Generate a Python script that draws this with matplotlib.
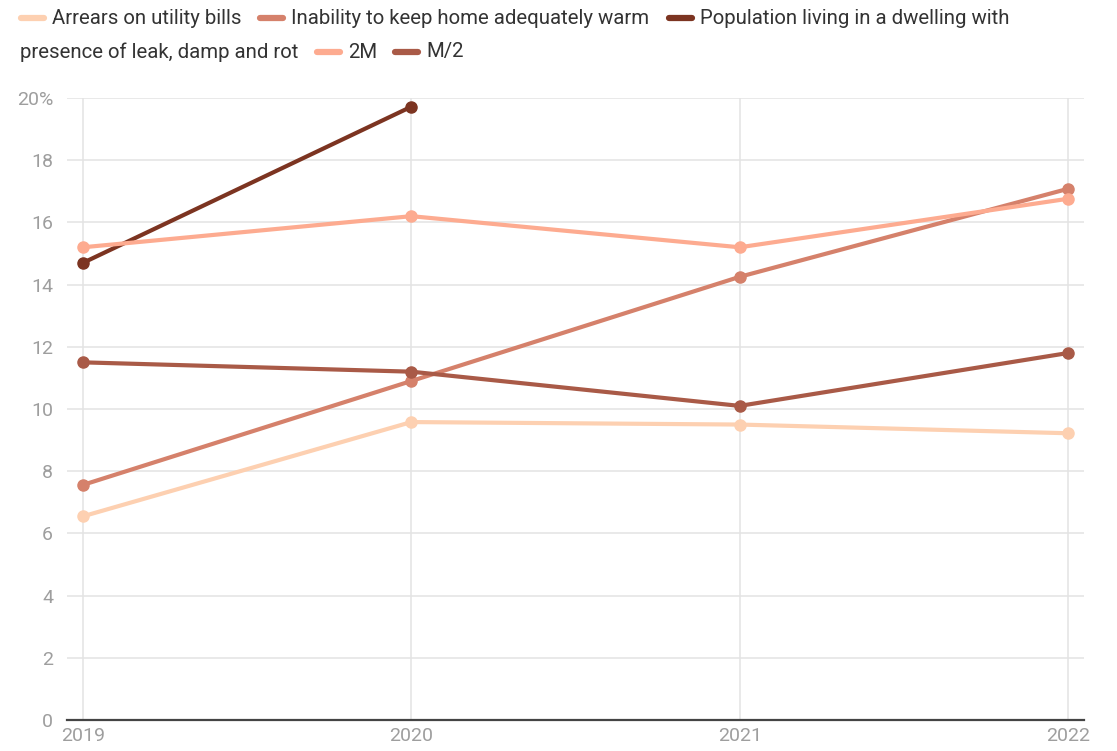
import matplotlib
matplotlib.use("Agg")
import matplotlib.pyplot as plt
from matplotlib.lines import Line2D

plt.rcParams['font.family'] = ['Roboto', 'DejaVu Sans']

# --- data -------------------------------------------------------------------
years = [2019, 2020, 2021, 2022]
arrears = [6.55, 9.58, 9.5, 9.22]
inability = [7.56, 10.9, 14.25, 17.08]
population = [14.7, 19.72]          # only 2019-2020
two_m = [15.2, 16.2, 15.2, 16.76]
m_half = [11.5, 11.2, 10.1, 11.8]

series = [
    ("Arrears on utility bills", years, arrears, "#fdd0b1"),
    ("Inability to keep home adequately warm", years, inability, "#d5816b"),
    ("Population living in a dwelling with presence of leak, damp and rot", years[:2], population, "#7c3421"),
    ("2M", years, two_m, "#fdab90"),
    ("M/2", years, m_half, "#a95a47"),
]
y_ticks = list(range(0, 21, 2))

# --- figure -----------------------------------------------------------------
W, H = 1117, 751
fig = plt.figure(figsize=(W / 100, H / 100), dpi=100)
ax = fig.add_axes([67 / W, 1 - 720 / H, (1084 - 67) / W, (720 - 98) / H])

for label, xs, ys, col in series:
    ax.plot(xs, ys, color=col, lw=3.0, marker='o', ms=8, solid_capstyle='round', zorder=3)

ax.set_ylim(0, 20)
ax.set_xlim(2019 - 16 / 328.3, 2022 + 16 / 328.3)
ax.set_yticks(y_ticks)
ax.set_yticklabels([f"{t}%" if t == 20 else str(t) for t in y_ticks])
ax.set_xticks(years)
ax.set_xticklabels([str(y) for y in years])

ax.grid(True, color='#e3e3e3', lw=1.1, zorder=0)
for s in ['top', 'right', 'left']:
    ax.spines[s].set_visible(False)
ax.spines['bottom'].set_color('#444444')
ax.spines['bottom'].set_linewidth(1.6)
ax.spines['bottom'].set_zorder(4)
ax.tick_params(axis='both', length=0, labelsize=14, labelcolor='#9e9e9e')
ax.tick_params(axis='y', pad=10)
ax.tick_params(axis='x', pad=5)

# --- legend (flowed over two lines, as in the reference) --------------------
def leg_item(x0, y0, col, text):
    fig.add_artist(Line2D([(x0 + 2) / W, (x0 + 25) / W], [1 - y0 / H] * 2, color=col, lw=4.5,
                          solid_capstyle='round', transform=fig.transFigure))
    fig.text((x0 + 33) / W, 1 - y0 / H, text, fontsize=14.7, color='#333333', va='center')

leg_item(19, 18, series[0][3], series[0][0])
leg_item(258, 18, series[1][3], series[1][0])
leg_item(667, 18, series[2][3], "Population living in a dwelling with")
fig.text(20 / W, 1 - 52 / H, "presence of leak, damp and rot", fontsize=14.7, color='#333333', va='center')
leg_item(315, 52, series[3][3], series[3][0])
leg_item(393, 52, series[4][3], series[4][0])

fig.savefig("out.png", dpi=100)
